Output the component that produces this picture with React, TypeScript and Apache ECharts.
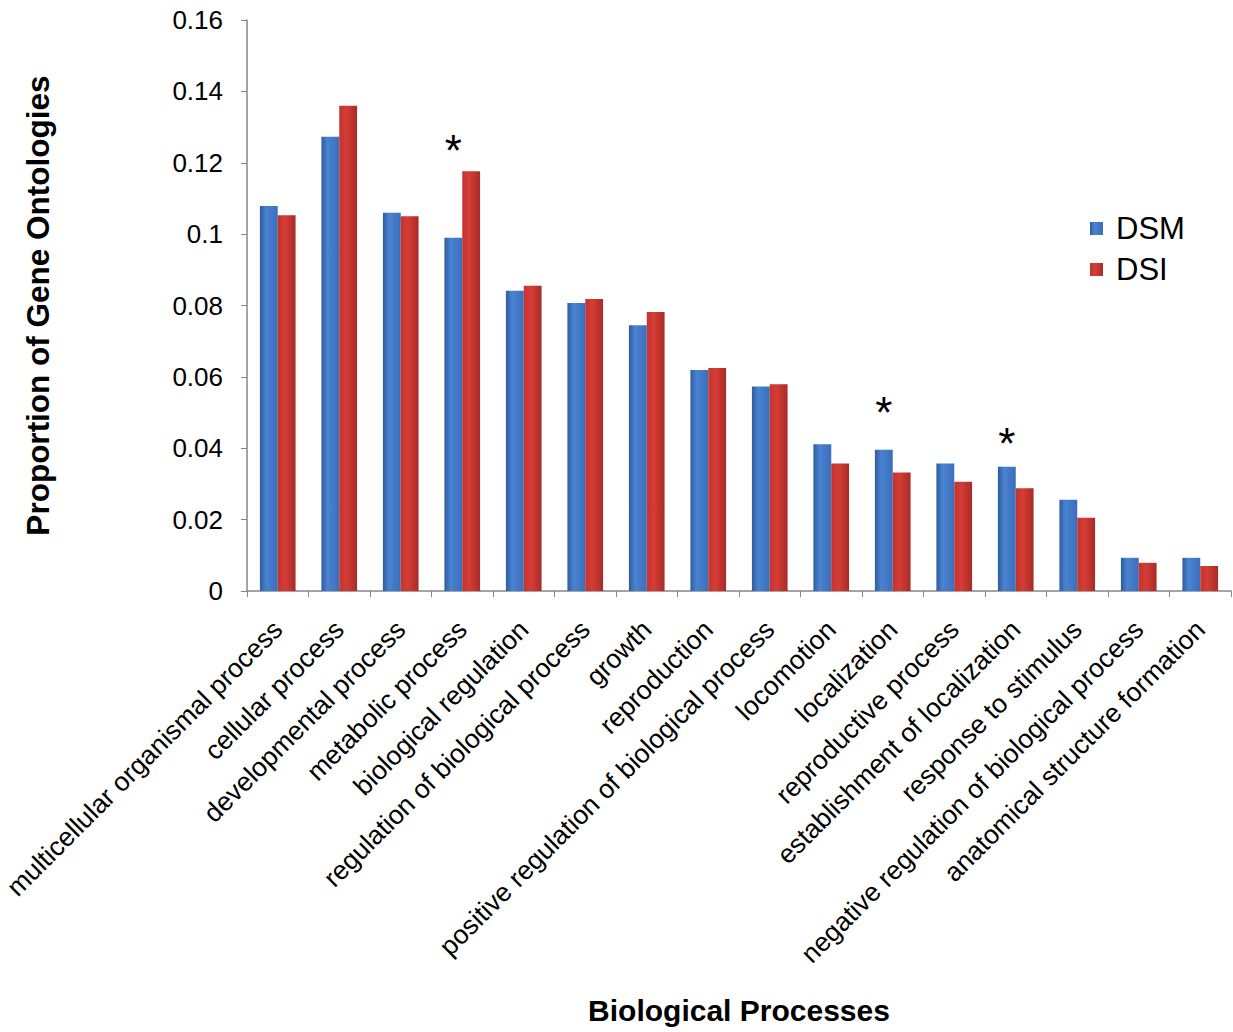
import React, { useEffect, useRef } from "react";
import * as echarts from "echarts";

const categories = [
  "multicellular organismal process",
  "cellular process",
  "developmental process",
  "metabolic process",
  "biological regulation",
  "regulation of biological process",
  "growth",
  "reproduction",
  "positive regulation of biological process",
  "locomotion",
  "localization",
  "reproductive process",
  "establishment of localization",
  "response to stimulus",
  "negative regulation of biological process",
  "anatomical structure formation",
];

const dsm = [
  0.1079, 0.1273, 0.106, 0.099, 0.0841, 0.0807, 0.0745, 0.0619, 0.0573, 0.0411,
  0.0396, 0.0357, 0.0348, 0.0256, 0.0093, 0.0093,
];

const dsi = [
  0.1053, 0.136, 0.105, 0.1176, 0.0855, 0.0818, 0.0782, 0.0625, 0.0579, 0.0357,
  0.0332, 0.0306, 0.0288, 0.0205, 0.0079, 0.007,
];

// significance markers: category index and height of asterisk
const starIndex = [3, 10, 12];
const starValue = [0.1255, 0.0521, 0.0434];

const yTicks = [0, 0.02, 0.04, 0.06, 0.08, 0.1, 0.12, 0.14, 0.16];

const FONT = "Liberation Sans, Arial, sans-serif";

export default function App() {
  const ref = useRef<HTMLDivElement>(null);

  useEffect(() => {
    document.body.style.margin = "0";
    const chart = echarts.init(ref.current!, null, { renderer: "svg" });

    const blue = new echarts.graphic.LinearGradient(0, 0, 1, 0, [
      { offset: 0, color: "#2d5c9f" },
      { offset: 0.35, color: "#4a83d0" },
      { offset: 1, color: "#3a6ebd" },
    ]);
    const red = new echarts.graphic.LinearGradient(0, 0, 1, 0, [
      { offset: 0, color: "#c0352f" },
      { offset: 0.4, color: "#d63c35" },
      { offset: 1, color: "#a82b27" },
    ]);

    chart.setOption({
      animation: false,
      backgroundColor: "#ffffff",
      textStyle: { fontFamily: FONT },
      grid: {
        left: 247,
        right: 2,
        top: 20,
        bottom: 441,
        containLabel: false,
        outerBoundsMode: "none",
      },
      legend: {
        orient: "vertical",
        left: 1085,
        top: 208,
        itemWidth: 13,
        itemHeight: 13,
        itemGap: 10,
        icon: "rect",
        textStyle: {
          fontSize: 31,
          color: "#000",
          fontFamily: FONT,
          padding: [0, 0, 0, 8],
        },
        data: ["DSM", "DSI"],
      },
      xAxis: {
        type: "category",
        data: categories,
        name: "Biological Processes",
        nameLocation: "middle",
        nameGap: 404,
        nameTextStyle: { fontSize: 30, fontWeight: "bold", color: "#000", fontFamily: FONT },
        axisLine: { lineStyle: { color: "#868686", width: 1.5 } },
        axisTick: { show: true, length: 6, lineStyle: { color: "#868686" } },
        axisLabel: {
          interval: 0,
          rotate: 45,
          fontSize: 26.5,
          color: "#000",
          margin: 34,
          fontFamily: FONT,
        },
      },
      yAxis: {
        type: "value",
        min: 0,
        max: 0.16,
        interval: 0.02,
        name: "Proportion of Gene Ontologies",
        nameLocation: "middle",
        nameGap: 193,
        nameTextStyle: { fontSize: 31.5, fontWeight: "bold", color: "#000", fontFamily: FONT },
        splitLine: { show: false },
        axisLine: { show: true, lineStyle: { color: "#868686", width: 1.5 } },
        axisTick: { show: true, length: 6, lineStyle: { color: "#868686" } },
        axisLabel: {
          fontSize: 26,
          color: "#000",
          margin: 24,
          fontFamily: FONT,
          formatter: (v: number) => {
            const t = yTicks.find((x) => Math.abs(x - v) < 1e-9);
            return String(t !== undefined ? Number(t.toFixed(2)) : v);
          },
        },
      },
      series: [
        {
          name: "DSM",
          type: "bar",
          data: dsm,
          barGap: "0%",
          barCategoryGap: "42%",
          itemStyle: { color: blue },
          markPoint: {
            symbol: "circle",
            symbolSize: 1,
            itemStyle: { color: "rgba(0,0,0,0)" },
            label: {
              show: true,
              position: "inside",
              formatter: "*",
              fontSize: 44,
              color: "#000",
              offset: [0, 7],
              fontFamily: FONT,
            },
            data: starIndex.map((i, k) => ({
              coord: [categories[i], starValue[k]],
            })),
          },
        },
        {
          name: "DSI",
          type: "bar",
          data: dsi,
          barGap: "0%",
          barCategoryGap: "42%",
          itemStyle: { color: red },
        },
      ],
    });

    return () => chart.dispose();
  }, []);

  return <div ref={ref} style={{ width: 1233, height: 1032 }} />;
}
